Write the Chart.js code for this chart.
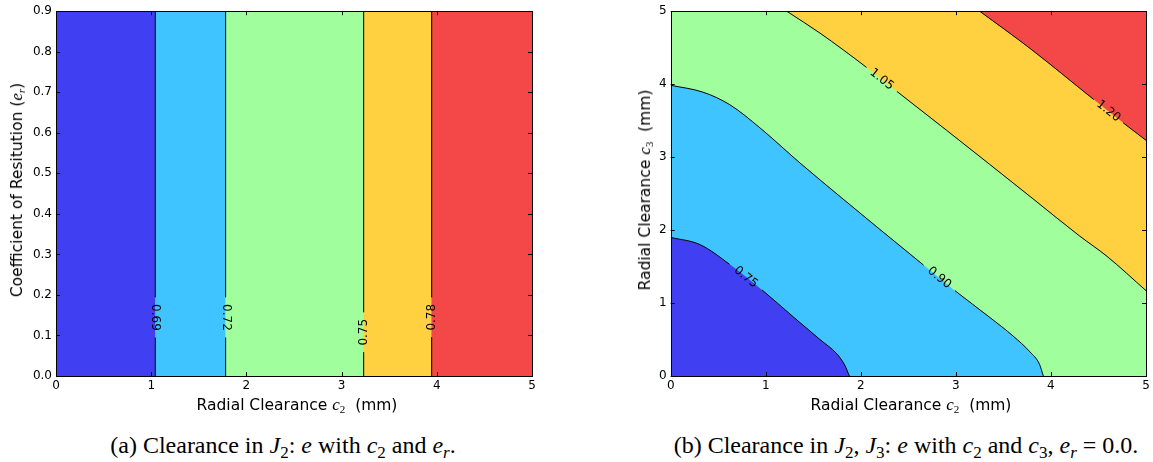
<!DOCTYPE html>
<html><head><meta charset="utf-8">
<script src="https://cdn.jsdelivr.net/npm/chart.js@4.4.1/dist/chart.umd.min.js"></script>
<style>
body{margin:0;background:#fff;width:1153px;height:462px;position:relative;overflow:hidden;}
canvas{position:absolute;top:0;}
.t{position:absolute;font:15.5px "DejaVu Sans";line-height:18px;color:#000;white-space:nowrap;transform:translate(-50%,-50%);}
.t.v{transform:translate(-50%,-50%) rotate(-90deg);}
.t i{font-family:"Liberation Serif";font-size:17px;}
.t sub{font-family:"Liberation Serif";font-size:11px;vertical-align:-3px;line-height:0;}
.cap{position:absolute;font:24px "Liberation Serif";line-height:24px;color:#000;white-space:nowrap;transform:translateX(-50%);}
.cap sub{font-size:17px;vertical-align:-5px;line-height:0;}
</style></head><body>
<canvas id="ca" width="560" height="400" style="left:0"></canvas>
<canvas id="cb" width="553" height="400" style="left:600px"></canvas>
<div class="t" style="left:297px;top:405px">Radial Clearance <i>c</i><sub>2</sub>&nbsp; (mm)</div>
<div class="t v" style="left:17px;top:190px">Coefficient of Resitution (<i>e<sub>r</sub></i>)</div>
<div class="t" style="left:911px;top:405px">Radial Clearance <i>c</i><sub>2</sub>&nbsp; (mm)</div>
<div class="t v" style="left:645px;top:190px">Radial Clearance <i>c</i><sub>3</sub>&nbsp; (mm)</div>
<div class="cap" style="left:283px;top:433px">(a) Clearance in <i>J</i><sub>2</sub>: <i>e</i> with <i>c</i><sub>2</sub> and <i>e<sub>r</sub></i>.</div>
<div class="cap" style="left:906px;top:433px">(b) Clearance in <i>J</i><sub>2</sub>, <i>J</i><sub>3</sub>: <i>e</i> with <i>c</i><sub>2</sub> and <i>c</i><sub>3</sub>, <i>e<sub>r</sub></i> = 0.0.</div>
<script>
// ---------- data ----------
const C2_TICKS = [0, 1, 2, 3, 4, 5];
const ER_TICKS = [0, 0.1, 0.2, 0.3, 0.4, 0.5, 0.6, 0.7, 0.8, 0.9];
const C3_TICKS = [0, 1, 2, 3, 4, 5];
const BAND_COLORS = ['#4040f2', '#40c4ff', '#a0ff9c', '#ffd040', '#f44848'];

// panel (a): e depends on c2 only -> vertical contour lines
const A_LEVELS = ['0.69', '0.72', '0.75', '0.78'];
const A_BOUNDS_C2 = [1.043, 1.782, 3.232, 3.946];
const A_GAP_LOW = [0.095, 0.095, 0.059, 0.096];
const A_GAP_HIGH = [0.194, 0.194, 0.157, 0.194];
const A_LABEL_ROT = [90, 90, -90, -90];

// panel (b): contour lines of e over (c2, c3)
const B_LEVELS = ['0.75', '0.90', '1.05', '1.20'];
const B075_C2 = [0, 0.31, 0.62, 0.96, 1.29, 1.57, 1.75, 1.83, 1.88];
const B075_C3 = [1.90, 1.80, 1.53, 1.18, 0.81, 0.50, 0.30, 0.15, 0];
const B090_C2 = [0, 0.34, 0.62, 0.94, 1.36, 1.80, 2.20, 2.66, 2.99, 3.36, 3.60, 3.78, 3.88, 3.92];
const B090_C3 = [3.985, 3.89, 3.72, 3.40, 2.92, 2.44, 2.01, 1.52, 1.17, 0.80, 0.55, 0.33, 0.16, 0];
const B105_C2 = [1.22, 1.57, 2.06, 2.38, 2.90, 3.81, 4.30, 4.59, 5.0];
const B105_C3 = [5.0, 4.70, 4.23, 3.90, 3.37, 2.43, 1.92, 1.64, 1.17];
const B120_C2 = [3.25, 3.78, 4.45, 4.76, 5.0];
const B120_C3 = [5.0, 4.49, 3.79, 3.47, 3.23];
const B_GAP_START = [2, 7, 2, 2]; // label sits between point i and i+1

// ---------- helpers ----------
const pts = (xs, ys) => xs.map((x, i) => ({x, y: ys[i]}));
const TICK_FONT = {family: 'DejaVu Sans', size: 12};
const NONE = 'rgba(0,0,0,0)';

const frameTicks = {
  id: 'frameTicks',
  afterDatasetsDraw(chart) {
    const {ctx, chartArea: a, scales: {x, y}} = chart;
    ctx.save();
    ctx.strokeStyle = '#000';
    ctx.lineWidth = 1;
    ctx.beginPath();
    x.ticks.forEach(t => {
      const p = Math.round(x.getPixelForValue(t.value)) + 0.5;
      ctx.moveTo(p, a.bottom); ctx.lineTo(p, a.bottom - 4);
      ctx.moveTo(p, a.top); ctx.lineTo(p, a.top + 4);
    });
    y.ticks.forEach(t => {
      const p = Math.round(y.getPixelForValue(t.value)) + 0.5;
      ctx.moveTo(a.left, p); ctx.lineTo(a.left + 4, p);
      ctx.moveTo(a.right, p); ctx.lineTo(a.right - 4, p);
    });
    ctx.stroke();
    ctx.strokeRect(Math.round(a.left) + 0.5, Math.round(a.top) + 0.5,
                   Math.round(a.right - a.left), Math.round(a.bottom - a.top));
    ctx.restore();
  }
};

const contourLabels = {
  id: 'contourLabels',
  afterDatasetsDraw(chart, args, opts) {
    const {ctx, scales: {x, y}} = chart;
    ctx.save();
    ctx.font = '12px "DejaVu Sans"';
    ctx.fillStyle = '#000';
    ctx.textAlign = 'center';
    ctx.textBaseline = 'middle';
    (opts.items || []).forEach(it => {
      const x0 = x.getPixelForValue(it.p0.x), y0 = y.getPixelForValue(it.p0.y);
      const x1 = x.getPixelForValue(it.p1.x), y1 = y.getPixelForValue(it.p1.y);
      const ang = it.rot !== undefined ? it.rot * Math.PI / 180 : Math.atan2(y1 - y0, x1 - x0);
      ctx.save();
      ctx.translate((x0 + x1) / 2, (y0 + y1) / 2);
      ctx.rotate(ang);
      ctx.fillText(it.text, 0, 0);
      ctx.restore();
    });
    ctx.restore();
  }
};

function baseOptions(yMax, yTicks, yFmt, yWidth, padRight, labelItems) {
  return {
    responsive: false,
    animation: false,
    events: [],
    layout: {padding: {left: 0, right: padRight, top: 8, bottom: 0}},
    elements: {point: {radius: 0}},
    plugins: {legend: {display: false}, tooltip: {enabled: false}, contourLabels: {items: labelItems}},
    scales: {
      x: {
        type: 'linear', min: 0, max: 5,
        grid: {display: false, drawTicks: false}, border: {display: false},
        afterBuildTicks: s => { s.ticks = C2_TICKS.map(v => ({value: v})); },
        ticks: {font: TICK_FONT, color: '#000', padding: 3, maxRotation: 0, callback: v => String(v)},
        afterFit: s => { s.height = 24; }
      },
      y: {
        type: 'linear', min: 0, max: yMax,
        grid: {display: false, drawTicks: false}, border: {display: false},
        afterBuildTicks: s => { s.ticks = yTicks.map(v => ({value: v})); },
        ticks: {font: TICK_FONT, color: '#000', padding: 4, callback: yFmt},
        afterFit: s => { s.width = yWidth; }
      }
    }
  };
}

// ---------- panel (a) ----------
const aDatasets = [];
A_BOUNDS_C2.forEach((c, i) => {
  aDatasets.push({
    data: [{x: c, y: 0}, {x: c, y: A_GAP_LOW[i]}, {x: c, y: A_GAP_HIGH[i]}, {x: c, y: 0.9}],
    borderColor: '#000', borderWidth: 1, fill: false, order: 0,
    segment: {borderColor: ctx => ctx.p0DataIndex === 1 ? NONE : undefined}
  });
});
const aEdges = [...A_BOUNDS_C2, 5];
aEdges.forEach((c, i) => {
  aDatasets.push({
    data: [{x: 0, y: 0.9}, {x: c, y: 0.9}],
    borderColor: NONE, borderWidth: 0, backgroundColor: BAND_COLORS[i],
    fill: 'origin', order: 1 + i
  });
});
const aLabels = A_LEVELS.map((t, i) => ({
  text: t, rot: A_LABEL_ROT[i],
  p0: {x: A_BOUNDS_C2[i], y: A_GAP_LOW[i]}, p1: {x: A_BOUNDS_C2[i], y: A_GAP_HIGH[i]}
}));
new Chart(document.getElementById('ca'), {
  type: 'line',
  data: {datasets: aDatasets},
  options: baseOptions(0.9, ER_TICKS, v => v.toFixed(1), 56, 28, aLabels),
  plugins: [frameTicks, contourLabels]
});

// ---------- panel (b) ----------
const bCurves = [pts(B075_C2, B075_C3), pts(B090_C2, B090_C3), pts(B105_C2, B105_C3), pts(B120_C2, B120_C3)];
const bFill = ['origin', 'origin', 'end', 'end'];
const bColor = [BAND_COLORS[0], BAND_COLORS[1], BAND_COLORS[3], BAND_COLORS[4]];
const bOrder = [2, 3, 5, 4];
const bDatasets = [];
// contour lines on top
bCurves.forEach((d, k) => bDatasets.push({
  data: d, borderColor: '#000', borderWidth: 1, fill: false, order: 0,
  cubicInterpolationMode: 'monotone',
  segment: {borderColor: ctx => ctx.p0DataIndex === B_GAP_START[k] ? NONE : undefined}
}));
// filled regions
bCurves.forEach((d, k) => bDatasets.push({
  data: d, borderColor: NONE, borderWidth: 0, backgroundColor: bColor[k],
  fill: bFill[k], order: bOrder[k], cubicInterpolationMode: 'monotone'
}));
bDatasets.push({
  data: [{x: 0, y: 5}, {x: 5, y: 5}], borderColor: NONE, borderWidth: 0,
  backgroundColor: BAND_COLORS[2], fill: 'origin', order: 6
});
const bLabels = B_LEVELS.map((t, k) => ({
  text: t, p0: bCurves[k][B_GAP_START[k]], p1: bCurves[k][B_GAP_START[k] + 1]
}));
new Chart(document.getElementById('cb'), {
  type: 'line',
  data: {datasets: bDatasets},
  options: baseOptions(5, C3_TICKS, v => String(v), 70.7, 7, bLabels),
  plugins: [frameTicks, contourLabels]
});
</script>
</body></html>
